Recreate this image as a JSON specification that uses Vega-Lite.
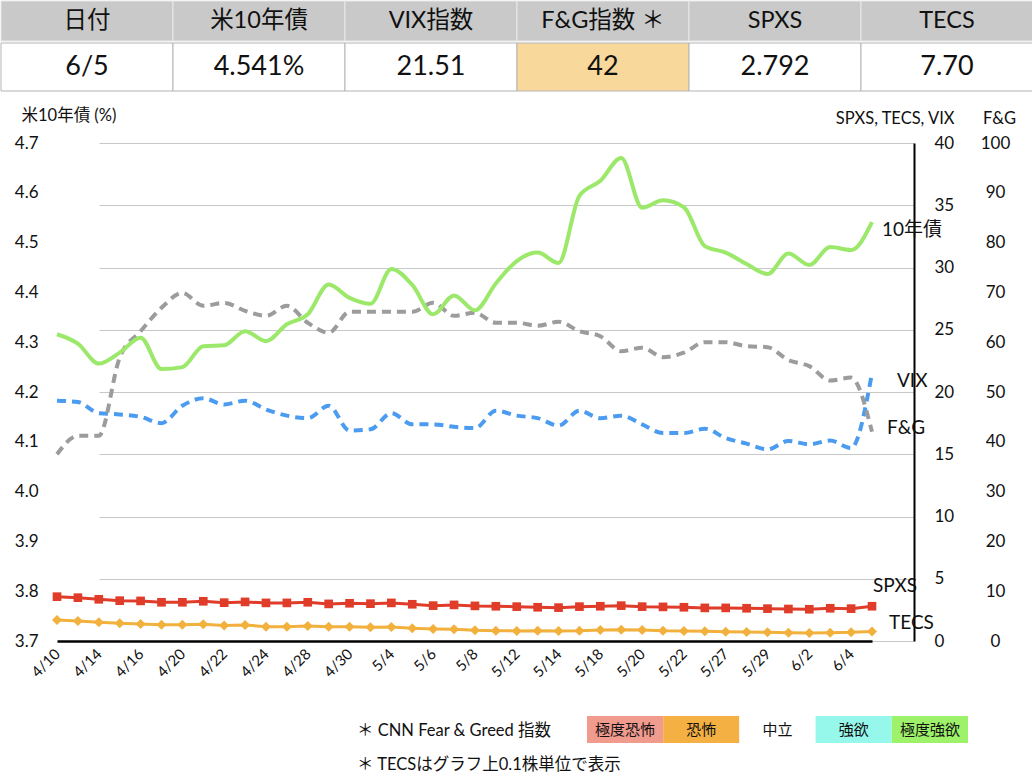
{
  "$schema": "https://vega.github.io/schema/vega-lite/v6.json",
  "padding": 0,
  "background": "white",
  "spacing": 15,
  "datasets": {
    "series": [
      {"date": "4/10", "yield": 4.316, "vix": 19.3, "fg": 37.5, "spxs": 3.56, "tecs": 16.9},
      {"date": "4/11", "yield": 4.297, "vix": 19.2, "fg": 41.2, "spxs": 3.48, "tecs": 16.1},
      {"date": "4/14", "yield": 4.257, "vix": 18.3, "fg": 41.2, "spxs": 3.35, "tecs": 15.0},
      {"date": "4/15", "yield": 4.279, "vix": 18.2, "fg": 56.9, "spxs": 3.24, "tecs": 14.2},
      {"date": "4/16", "yield": 4.309, "vix": 18.0, "fg": 62.2, "spxs": 3.22, "tecs": 13.7},
      {"date": "4/17", "yield": 4.246, "vix": 17.5, "fg": 66.9, "spxs": 3.11, "tecs": 13.1},
      {"date": "4/20", "yield": 4.250, "vix": 18.9, "fg": 69.9, "spxs": 3.11, "tecs": 13.1},
      {"date": "4/21", "yield": 4.292, "vix": 19.5, "fg": 67.3, "spxs": 3.19, "tecs": 13.4},
      {"date": "4/22", "yield": 4.294, "vix": 19.0, "fg": 67.9, "spxs": 3.08, "tecs": 12.4},
      {"date": "4/23", "yield": 4.322, "vix": 19.3, "fg": 66.3, "spxs": 3.14, "tecs": 12.9},
      {"date": "4/24", "yield": 4.302, "vix": 18.6, "fg": 65.3, "spxs": 3.06, "tecs": 11.5},
      {"date": "4/25", "yield": 4.336, "vix": 18.1, "fg": 67.3, "spxs": 3.06, "tecs": 11.5},
      {"date": "4/28", "yield": 4.356, "vix": 17.9, "fg": 63.9, "spxs": 3.11, "tecs": 12.1},
      {"date": "4/29", "yield": 4.416, "vix": 18.9, "fg": 61.9, "spxs": 2.98, "tecs": 11.5},
      {"date": "4/30", "yield": 4.389, "vix": 16.9, "fg": 66.1, "spxs": 3.03, "tecs": 11.5},
      {"date": "5/1", "yield": 4.377, "vix": 17.0, "fg": 66.1, "spxs": 3.00, "tecs": 11.0},
      {"date": "5/4", "yield": 4.447, "vix": 18.3, "fg": 66.1, "spxs": 3.06, "tecs": 11.3},
      {"date": "5/5", "yield": 4.415, "vix": 17.4, "fg": 66.1, "spxs": 2.95, "tecs": 10.2},
      {"date": "5/6", "yield": 4.356, "vix": 17.4, "fg": 67.9, "spxs": 2.84, "tecs": 9.7},
      {"date": "5/7", "yield": 4.394, "vix": 17.2, "fg": 65.3, "spxs": 2.90, "tecs": 9.4},
      {"date": "5/8", "yield": 4.364, "vix": 17.1, "fg": 65.9, "spxs": 2.82, "tecs": 8.6},
      {"date": "5/9", "yield": 4.418, "vix": 18.5, "fg": 63.9, "spxs": 2.79, "tecs": 8.3},
      {"date": "5/12", "yield": 4.463, "vix": 18.1, "fg": 63.9, "spxs": 2.76, "tecs": 8.1},
      {"date": "5/13", "yield": 4.480, "vix": 17.9, "fg": 63.3, "spxs": 2.71, "tecs": 8.3},
      {"date": "5/14", "yield": 4.459, "vix": 17.3, "fg": 64.1, "spxs": 2.68, "tecs": 8.1},
      {"date": "5/15", "yield": 4.594, "vix": 18.5, "fg": 62.2, "spxs": 2.76, "tecs": 8.3},
      {"date": "5/18", "yield": 4.624, "vix": 17.9, "fg": 61.2, "spxs": 2.79, "tecs": 8.9},
      {"date": "5/19", "yield": 4.670, "vix": 18.1, "fg": 58.2, "spxs": 2.84, "tecs": 9.1},
      {"date": "5/20", "yield": 4.570, "vix": 17.4, "fg": 58.9, "spxs": 2.76, "tecs": 8.9},
      {"date": "5/21", "yield": 4.585, "vix": 16.7, "fg": 57.0, "spxs": 2.74, "tecs": 8.3},
      {"date": "5/22", "yield": 4.571, "vix": 16.7, "fg": 57.9, "spxs": 2.71, "tecs": 8.1},
      {"date": "5/23", "yield": 4.493, "vix": 17.05, "fg": 60.0, "spxs": 2.66, "tecs": 7.8},
      {"date": "5/27", "yield": 4.480, "vix": 16.3, "fg": 60.0, "spxs": 2.66, "tecs": 7.5},
      {"date": "5/28", "yield": 4.457, "vix": 15.85, "fg": 59.2, "spxs": 2.63, "tecs": 7.3},
      {"date": "5/29", "yield": 4.437, "vix": 15.4, "fg": 59.0, "spxs": 2.60, "tecs": 7.0},
      {"date": "5/30", "yield": 4.478, "vix": 16.06, "fg": 56.4, "spxs": 2.57, "tecs": 6.7},
      {"date": "6/2", "yield": 4.455, "vix": 15.8, "fg": 55.2, "spxs": 2.55, "tecs": 6.5},
      {"date": "6/3", "yield": 4.491, "vix": 16.1, "fg": 52.3, "spxs": 2.63, "tecs": 6.7},
      {"date": "6/4", "yield": 4.485, "vix": 15.5, "fg": 52.9, "spxs": 2.60, "tecs": 7.0},
      {"date": "6/5", "yield": 4.541, "vix": 21.51, "fg": 42, "spxs": 2.792, "tecs": 7.70}
    ],
    "table": [
      {"col": "日付", "value": "6/5"},
      {"col": "米10年債", "value": "4.541%"},
      {"col": "VIX指数", "value": "21.51"},
      {"col": "F&G指数 ＊", "value": "42"},
      {"col": "SPXS", "value": "2.792"},
      {"col": "TECS", "value": "7.70"}
    ],
    "zones": [
      {"zone": "極度恐怖"},
      {"zone": "恐怖"},
      {"zone": "中立"},
      {"zone": "強欲"},
      {"zone": "極度強欲"}
    ],
    "notes": [
      {"row": 1, "note": "＊ CNN Fear & Greed 指数"},
      {"row": 2, "note": "＊ TECSはグラフ上0.1株単位で表示"}
    ]
  },
  "vconcat": [
    {
      "spacing": 0,
      "vconcat": [
        {
          "width": 1032,
          "height": 40,
          "data": {"name": "table"},
          "encoding": {
            "x": {"field": "col", "type": "nominal", "sort": null, "axis": null, "scale": {"paddingInner": 0, "paddingOuter": 0}}
          },
          "layer": [
            {"mark": {"type": "rect", "fill": "#c9c9c9", "stroke": "#e8e8e8", "strokeWidth": 1}},
            {"mark": {"type": "text", "fontSize": 23.5, "color": "#111"}, "encoding": {"text": {"field": "col"}}}
          ]
        },
        {
          "width": 1032,
          "height": 48,
          "data": {"name": "table"},
          "encoding": {
            "x": {"field": "col", "type": "nominal", "sort": null, "axis": null, "scale": {"paddingInner": 0, "paddingOuter": 0}}
          },
          "layer": [
            {
              "mark": {"type": "rect", "stroke": "#b4b4b4", "strokeWidth": 1},
              "encoding": {
                "fill": {"condition": {"test": "datum.col === 'F&G指数 ＊'", "value": "#f9d89c"}, "value": "#ffffff"}
              }
            },
            {"mark": {"type": "text", "fontSize": 27, "color": "#111"}, "encoding": {"text": {"field": "value"}}}
          ]
        }
      ]
    },
    {
      "spacing": 0,
      "hconcat": [
        {
          "width": 13,
          "height": 557,
          "data": {"values": [{}]},
          "mark": {"type": "text"},
          "encoding": {"text": {"value": ""}}
        },
        {
          "width": 857,
          "height": 498,
          "data": {"name": "series"},
          "encoding": {
            "x": {
              "field": "date",
              "type": "ordinal",
              "sort": null,
              "scale": {
                "type": "point",
                "padding": 0,
                "rangeMax": 815,
                "domain": ["4/10","4/11","4/14","4/15","4/16","4/17","4/20","4/21","4/22","4/23","4/24","4/25","4/28","4/29","4/30","5/1","5/4","5/5","5/6","5/7","5/8","5/9","5/12","5/13","5/14","5/15","5/18","5/19","5/20","5/21","5/22","5/23","5/27","5/28","5/29","5/30","6/2","6/3","6/4","6/5"]
              },
              "axis": {
                "values": ["4/10","4/14","4/16","4/20","4/22","4/24","4/28","4/30","5/4","5/6","5/8","5/12","5/14","5/18","5/20","5/22","5/27","5/29","6/2","6/4"],
                "labelAngle": -45,
                "labelAlign": "right",
                "labelBaseline": "middle",
                "labelFontSize": 15,
                "labelPadding": 10,
                "labelOverlap": false,
                "ticks": false,
                "grid": false,
                "domainColor": "#000000",
                "domainWidth": 2.5,
                "title": null
              }
            }
          },
          "layer": [
            {
              "mark": {"type": "line", "color": "#4b9cf0", "strokeWidth": 4, "strokeDash": [9, 6], "interpolate": "monotone"},
              "encoding": {
                "y": {
                  "field": "vix",
                  "type": "quantitative",
                  "scale": {"domain": [0, 40]},
                  "axis": {
                    "orient": "right",
                    "values": [0, 5, 10, 15, 20, 25, 30, 35, 40],
                    "grid": true,
                    "gridColor": "#c8c8c8",
                    "gridWidth": 1,
                    "ticks": false,
                    "domain": true,
                    "domainColor": "#000000",
                    "domainWidth": 2,
                    "labelFontSize": 17,
                    "labelPadding": 20,
                    "labelAlign": "left",
                    "title": "SPXS, TECS, VIX",
                    "titleAngle": 0,
                    "titleAlign": "right",
                    "titleBaseline": "middle",
                    "titleX": 40,
                    "titleY": -25,
                    "titleFontSize": 16.5,
                    "titleFontWeight": "normal"
                  }
                }
              }
            },
            {
              "mark": {"type": "line", "color": "#9c9c9c", "strokeWidth": 4, "strokeDash": [9, 6], "interpolate": "monotone"},
              "encoding": {
                "y": {
                  "field": "fg",
                  "type": "quantitative",
                  "scale": {"domain": [0, 100]},
                  "axis": {
                    "orient": "right",
                    "offset": 60,
                    "values": [0, 10, 20, 30, 40, 50, 60, 70, 80, 90, 100],
                    "grid": false,
                    "ticks": false,
                    "domain": false,
                    "labelFontSize": 17,
                    "labelPadding": 21,
                    "labelAlign": "center",
                    "title": "F&G",
                    "titleAngle": 0,
                    "titleAlign": "center",
                    "titleBaseline": "middle",
                    "titleX": 25,
                    "titleY": -25,
                    "titleFontSize": 16.5,
                    "titleFontWeight": "normal"
                  }
                }
              }
            },
            {
              "mark": {"type": "line", "color": "#9ce86a", "strokeWidth": 4, "interpolate": "monotone"},
              "encoding": {
                "y": {
                  "field": "yield",
                  "type": "quantitative",
                  "scale": {"domain": [3.7, 4.7]},
                  "axis": {
                    "orient": "left",
                    "values": [3.7, 3.8, 3.9, 4.0, 4.1, 4.2, 4.3, 4.4, 4.5, 4.6, 4.7],
                    "format": ".1f",
                    "grid": false,
                    "ticks": false,
                    "domain": false,
                    "labelFontSize": 17,
                    "labelPadding": 19,
                    "title": "米10年債 (%)",
                    "titleAngle": 0,
                    "titleAlign": "left",
                    "titleBaseline": "middle",
                    "titleX": -36,
                    "titleY": -28,
                    "titleFontSize": 16.5,
                    "titleFontWeight": "normal"
                  }
                }
              }
            },
            {
              "mark": {"type": "line", "color": "#e03c2a", "strokeWidth": 3, "point": {"shape": "square", "size": 75, "filled": true, "color": "#e03c2a"}},
              "encoding": {"y": {"field": "spxs", "type": "quantitative", "scale": {"domain": [0, 40]}, "axis": null}}
            },
            {
              "mark": {"type": "line", "color": "#f2b03d", "strokeWidth": 3, "point": {"shape": "diamond", "size": 100, "filled": true, "color": "#f2b03d"}},
              "encoding": {"y": {"field": "tecs", "type": "quantitative", "scale": {"domain": [0, 400]}, "axis": null}}
            },
            {
              "transform": [{"filter": {"field": "date", "equal": "6/5"}}],
              "mark": {"type": "text", "align": "left", "baseline": "middle", "dx": 10, "dy": 8, "fontSize": 19, "color": "#111"},
              "encoding": {"y": {"field": "yield", "type": "quantitative", "scale": {"domain": [3.7, 4.7]}, "axis": null}, "text": {"value": "10年債"}}
            },
            {
              "transform": [{"filter": {"field": "date", "equal": "6/5"}}],
              "mark": {"type": "text", "align": "left", "baseline": "middle", "dx": 25, "dy": 8, "fontSize": 19, "color": "#111"},
              "encoding": {"y": {"field": "vix", "type": "quantitative", "scale": {"domain": [0, 40]}, "axis": null}, "text": {"value": "VIX"}}
            },
            {
              "transform": [{"filter": {"field": "date", "equal": "6/5"}}],
              "mark": {"type": "text", "align": "left", "baseline": "middle", "dx": 15, "dy": -4, "fontSize": 19, "color": "#111"},
              "encoding": {"y": {"field": "fg", "type": "quantitative", "scale": {"domain": [0, 100]}, "axis": null}, "text": {"value": "F&G"}}
            },
            {
              "transform": [{"filter": {"field": "date", "equal": "6/5"}}],
              "mark": {"type": "text", "align": "left", "baseline": "middle", "dx": 1, "dy": -20, "fontSize": 19, "color": "#111"},
              "encoding": {"y": {"field": "spxs", "type": "quantitative", "scale": {"domain": [0, 40]}, "axis": null}, "text": {"value": "SPXS"}}
            },
            {
              "transform": [{"filter": {"field": "date", "equal": "6/5"}}],
              "mark": {"type": "text", "align": "left", "baseline": "middle", "dx": 17, "dy": -8, "fontSize": 19, "color": "#111"},
              "encoding": {"y": {"field": "tecs", "type": "quantitative", "scale": {"domain": [0, 400]}, "axis": null}, "text": {"value": "TECS"}}
            }
          ],
          "resolve": {"scale": {"y": "independent"}, "axis": {"y": "independent"}}
        }
      ]
    },
    {
      "spacing": 0,
      "bounds": "flush",
      "hconcat": [
        {
          "width": 126,
          "height": 10,
          "data": {"values": [{}]},
          "mark": {"type": "text"},
          "encoding": {"text": {"value": ""}}
        },
        {
          "width": 460,
          "height": 64,
          "data": {"name": "notes"},
          "mark": {"type": "text", "align": "left", "baseline": "middle", "fontSize": 16.5, "color": "#111"},
          "encoding": {
            "y": {"field": "row", "type": "ordinal", "axis": null, "scale": {"type": "point", "padding": 0.441}},
            "text": {"field": "note"}
          }
        },
        {
          "width": 381,
          "height": 27,
          "data": {"name": "zones"},
          "encoding": {
            "x": {"field": "zone", "type": "nominal", "sort": null, "axis": null, "scale": {"paddingInner": 0, "paddingOuter": 0}}
          },
          "layer": [
            {
              "mark": {"type": "rect"},
              "encoding": {
                "color": {
                  "field": "zone",
                  "type": "nominal",
                  "legend": null,
                  "scale": {"domain": ["極度恐怖", "恐怖", "中立", "強欲", "極度強欲"], "range": ["#f19a8e", "#f4b042", "#ffffff", "#96f8eb", "#9df26a"]}
                }
              }
            },
            {"mark": {"type": "text", "fontSize": 15, "color": "#111"}, "encoding": {"text": {"field": "zone"}}}
          ]
        }
      ]
    }
  ],
  "config": {
    "view": {"stroke": null},
    "font": "Lato, 'Noto Sans CJK JP', sans-serif",
    "axis": {"labelColor": "#111111", "titleColor": "#111111"}
  }
}
